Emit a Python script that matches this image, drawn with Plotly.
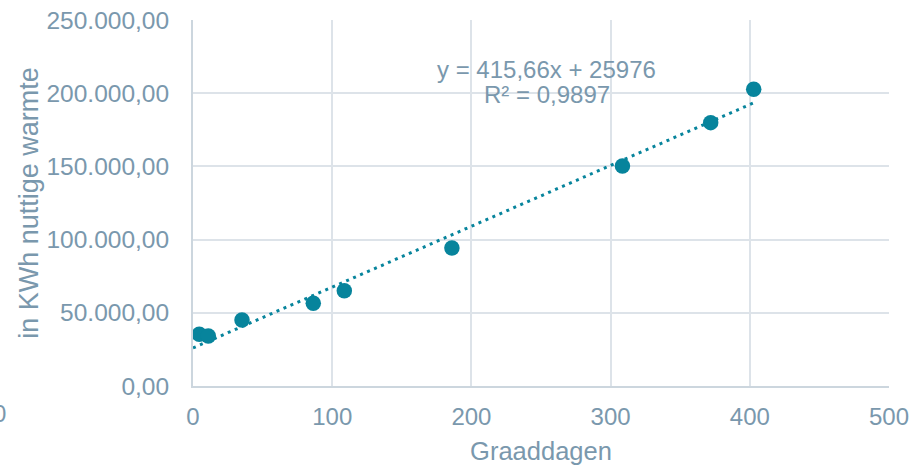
import plotly.graph_objects as go

# Data
graaddagen = [4.5, 11.0, 35.2, 86.4, 108.7, 186.0, 308.5, 371.9, 402.8]
warmte_kwh = [35300, 34200, 45100, 56500, 65100, 94300, 150300, 179900, 202700]

# Trendline coefficients as shown in the chart label
slope = 415.66
intercept = 25976
r_squared = 0.9897

x_ticks = [0, 100, 200, 300, 400, 500]
y_ticks = [0, 50000, 100000, 150000, 200000, 250000]

text_col = "#7a98ad"
grid_col = "#dde3e9"
marker_col = "#07849c"
font_family = "Liberation Sans, Arial, sans-serif"

trend_x = [0, max(graaddagen)]
trend_y = [slope * v + intercept for v in trend_x]

fig = go.Figure()
fig.add_trace(go.Scatter(
    x=trend_x, y=trend_y, mode="lines",
    line=dict(color=marker_col, width=3, dash="3px,4.6px"),
    hoverinfo="skip", showlegend=False,
))
fig.add_trace(go.Scatter(
    x=graaddagen, y=warmte_kwh, mode="markers",
    marker=dict(color=marker_col, size=15.5, line=dict(width=0)),
    showlegend=False,
))

line1 = f"y = {str(slope).replace('.', ',')}x + {intercept}"
line2 = f"R² = {str(r_squared).replace('.', ',')}"
fig.add_annotation(
    x=254, y=216500, xref="x", yref="y", text=line1, showarrow=False,
    font=dict(family=font_family, size=24, color=text_col), align="center",
)
fig.add_annotation(
    x=254, y=198800, xref="x", yref="y", text=line2, showarrow=False,
    font=dict(family=font_family, size=24, color=text_col), align="center",
)
# cut-off label at the far left edge, as in the reference
fig.add_annotation(
    x=-0.2773, y=-0.076, xref="paper", yref="paper", text="0", showarrow=False,
    xanchor="center", yanchor="middle",
    font=dict(family=font_family, size=24, color=text_col),
)

fig.update_layout(
    width=917, height=466,
    margin=dict(l=193, r=28, t=20, b=80),
    paper_bgcolor="white", plot_bgcolor="white",
    separators=",.",
    font=dict(family=font_family, color=text_col),
    xaxis=dict(
        range=[0, 500], tickvals=x_ticks, ticktext=[str(v) for v in x_ticks],
        showgrid=True, gridcolor=grid_col, gridwidth=2,
        zeroline=False, showline=True, linecolor="#ccd6de", linewidth=2, mirror=False,
        ticks="", ticklabelstandoff=8,
        tickfont=dict(size=24, color=text_col, family=font_family),
        title=dict(text="Graaddagen", font=dict(size=25.5, color=text_col, family=font_family), standoff=13),
        automargin=False,
    ),
    yaxis=dict(
        range=[0, 250000], tickvals=y_ticks, tickformat=",.2f",
        showgrid=True, gridcolor=grid_col, gridwidth=2,
        zeroline=False, showline=True, linecolor="#ccd6de", linewidth=2,
        ticks="", ticklabelstandoff=17,
        tickfont=dict(size=24.5, color=text_col, family=font_family),
        title=dict(text="in KWh nuttige warmte", font=dict(size=27, color=text_col, family=font_family), standoff=0),
        automargin=False,
    ),
)

fig.write_html("out.html", post_script="document.body.style.margin='0';",
               config={"displayModeBar": False})
